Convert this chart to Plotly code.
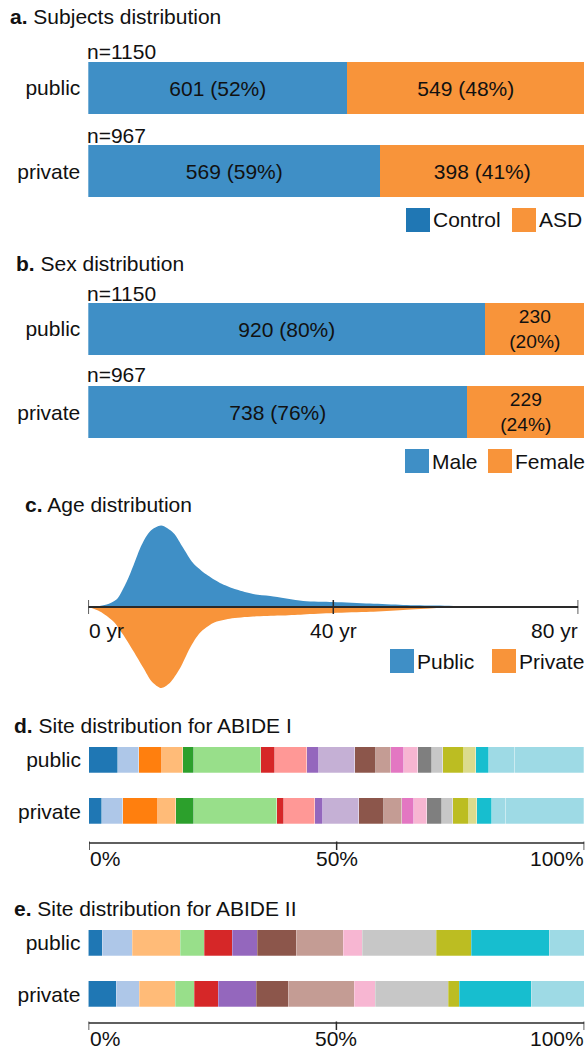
import plotly.graph_objects as go

W, H = 588, 1051
FONT = "Liberation Sans, Arial, Helvetica, sans-serif"
FS = 21

# ---------------- data ----------------
groups = ["public", "private"]
totals = [1150, 967]

control_counts = [601, 569]
asd_counts = [549, 398]

male_counts = [920, 738]
female_counts = [230, 229]

# age density (% of subjects per year)
age_public_yr = [0, 1.5, 3.0, 4.6, 6.3, 7.4, 8.7, 10.1, 11.9, 13.9, 15.5, 17.1, 19.3,
                 21.5, 24.2, 26.9, 29.7, 35.1, 40.0, 46.0, 51.4, 56.9, 62.3, 66.0, 80.0]
age_public_density = [0, 0.03, 0.12, 0.37, 1.29, 2.10, 3.10, 3.79, 4.07, 3.70, 2.95, 2.20, 1.62,
                      1.20, 0.87, 0.65, 0.55, 0.30, 0.25, 0.17, 0.10, 0.07, 0.03, 0, 0]
age_private_yr = [0, 1.9, 4.1, 5.7, 7.35, 9.0, 10.35, 11.9, 13.3, 15.0, 16.6, 18.2, 20.4,
                  23.1, 26.9, 31.3, 35.1, 40.0, 46.0, 51.4, 56.9, 59.5, 80.0]
age_private_density = [0, 0.22, 0.72, 1.39, 2.20, 3.05, 3.72, 4.05, 3.80, 3.05, 2.05, 1.30, 0.80,
                       0.59, 0.48, 0.43, 0.37, 0.30, 0.24, 0.15, 0.05, 0, 0]
age_ticks = [0, 40, 80]

# share of subjects per acquisition site (%)
abide1_public = [5.9, 4.3, 4.6, 4.2, 2.3, 13.5, 2.8, 6.5, 2.4, 7.3, 4.2, 3.1, 2.6, 2.7,
                 3.0, 2.2, 4.2, 2.4, 2.6, 5.2, 14.1]
abide1_private = [2.6, 4.3, 7.0, 3.6, 3.7, 16.8, 1.4, 6.2, 1.7, 7.2, 5.2, 3.5, 2.5, 2.7,
                  3.0, 2.1, 3.2, 1.7, 3.1, 2.8, 15.8]
abide2_public = [2.8, 6.1, 9.6, 4.8, 5.8, 4.9, 8.0, 9.5, 3.8, 14.9, 7.1, 15.6, 7.1]
abide2_private = [5.6, 4.6, 7.3, 3.8, 4.9, 7.7, 6.4, 13.3, 4.2, 14.9, 2.2, 14.4, 10.7]
pct_ticks = [0, 50, 100]

TAB20 = ["#1f77b4", "#aec7e8", "#ff7f0e", "#ffbb78", "#2ca02c", "#98df8a", "#d62728",
         "#ff9896", "#9467bd", "#c5b0d5", "#8c564b", "#c49c94", "#e377c2", "#f7b6d2",
         "#7f7f7f", "#c7c7c7", "#bcbd22", "#dbdb8d", "#17becf", "#9edae5"]
abide1_colors = TAB20 + [TAB20[19]]
abide2_colors = [TAB20[i] for i in [0, 1, 3, 5, 6, 8, 10, 11, 13, 15, 16, 18, 19]]

BLUE = "#3f8fc6"
ORANGE = "#f8943a"


def fx(p):
    return p / W


def fy(p):
    return 1 - p / H


fig = go.Figure()
annotations = []
shapes = []


def bar_axes(n, top, bot, w, left=88.3, right=584.6):
    fig.layout[f"xaxis{n}"] = dict(domain=[fx(left), fx(right)], range=[0, 100], visible=False,
                                   fixedrange=True)
    fig.layout[f"yaxis{n}"] = dict(domain=[fy(bot), fy(top)], range=[1 + w / 2, -w / 2],
                                   tickvals=[0, 1], ticktext=groups, showgrid=False,
                                   zeroline=False, showline=False, ticks="",
                                   ticklabelstandoff=7,
                                   tickfont=dict(family=FONT, size=FS, color="#111"),
                                   anchor=f"x{n}", fixedrange=True)


def count_bars(n, w, counts_a, counts_b, col_a, col_b, wrap_b=False):
    pa = [a / t * 100 for a, t in zip(counts_a, totals)]
    pb = [b / t * 100 for b, t in zip(counts_b, totals)]
    ta = [f"{a} ({round(p)}%)" for a, p in zip(counts_a, pa)]
    sep = "<br>" if wrap_b else " "
    tb = [f"{b}{sep}({round(p)}%)" for b, p in zip(counts_b, pb)]
    for vals, txt, col in [(pa, ta, col_a), (pb, tb, col_b)]:
        fig.add_trace(go.Bar(
            y=[0, 1], x=vals, orientation="h", width=w, text=txt,
            textposition="inside", insidetextanchor="middle",
            textfont=dict(family=FONT, size=FS, color="#111"),
            marker=dict(color=col, line=dict(width=0)),
            xaxis=f"x{n}", yaxis=f"y{n}", showlegend=False, hoverinfo="skip"))


def site_bars(n, w, pub, priv, colors):
    sp, sv = sum(pub), sum(priv)
    for i, (a, b) in enumerate(zip(pub, priv)):
        fig.add_trace(go.Bar(
            y=[0, 1], x=[a / sp * 100, b / sv * 100], orientation="h", width=w,
            marker=dict(color=colors[i], line=dict(width=0.6, color="rgba(255,255,255,0.45)")),
            name=f"site {i + 1}", xaxis=f"x{n}", yaxis=f"y{n}",
            showlegend=False, hoverinfo="skip"))


def title(text, x, y):
    annotations.append(dict(text=text, x=fx(x), y=fy(y), xref="paper", yref="paper",
                            xanchor="left", yanchor="middle", showarrow=False,
                            font=dict(family=FONT, size=FS, color="#111")))


def label(text, x, y, anchor="left"):
    annotations.append(dict(text=text, x=fx(x), y=fy(y), xref="paper", yref="paper",
                            xanchor=anchor, yanchor="middle", showarrow=False,
                            font=dict(family=FONT, size=FS, color="#111")))


def legend_item(x_box, y, color, text):
    shapes.append(dict(type="rect", xref="paper", yref="paper",
                       x0=fx(x_box), x1=fx(x_box + 24), y0=fy(y + 12), y1=fy(y - 12),
                       fillcolor=color, line=dict(width=0)))
    label(text, x_box + 25, y)


# ---------- a. Subjects distribution ----------
title("<b>a.</b> Subjects distribution", 8, 17)
wa = 0.617
bar_axes("", 62, 197, wa)
count_bars("", wa, control_counts, asd_counts, BLUE, ORANGE)
label(f"n={totals[0]}", 85, 51)
label(f"n={totals[1]}", 85, 135)
legend_item(406, 220, "#2077b4", "Control")
legend_item(512, 220, ORANGE, "ASD")

# ---------- b. Sex distribution ----------
title("<b>b.</b> Sex distribution", 14, 263)
wb = 0.62
bar_axes(2, 303, 438, wb)
count_bars(2, wb, male_counts, female_counts, BLUE, ORANGE, wrap_b=True)
label(f"n={totals[0]}", 85, 293)
label(f"n={totals[1]}", 85, 375)
legend_item(405, 461, BLUE, "Male")
legend_item(488, 461, ORANGE, "Female")

# ---------- c. Age distribution ----------
title("<b>c.</b> Age distribution", 23, 504)
fig.layout["xaxis3"] = dict(domain=[fx(88.3), fx(578.3)], range=[0, 80], visible=False,
                            fixedrange=True)
fig.layout["yaxis3"] = dict(domain=[fy(694), fy(520)], range=[-4.35, 4.35], visible=False,
                            anchor="x3", fixedrange=True)
fig.add_trace(go.Scatter(x=age_public_yr, y=age_public_density, mode="lines",
                         line=dict(width=0, shape="spline", smoothing=0.8, color=BLUE),
                         fill="tozeroy", fillcolor=BLUE, xaxis="x3", yaxis="y3",
                         showlegend=False, hoverinfo="skip"))
fig.add_trace(go.Scatter(x=age_private_yr, y=[-d for d in age_private_density], mode="lines",
                         line=dict(width=0, shape="spline", smoothing=0.8, color=ORANGE),
                         fill="tozeroy", fillcolor=ORANGE, xaxis="x3", yaxis="y3",
                         showlegend=False, hoverinfo="skip"))
shapes.append(dict(type="line", xref="x3", yref="y3", x0=age_ticks[0], x1=age_ticks[-1],
                   y0=0, y1=0, line=dict(color="#2a2a2a", width=1.8)))
for t in age_ticks:
    shapes.append(dict(type="line", xref="x3", yref="y3", x0=t, x1=t,
                       ysizemode="pixel", yanchor=0, y0=-7, y1=7,
                       line=dict(color="#2a2a2a", width=1.5)))
for t, anc in zip(age_ticks, ["left", "center", "right"]):
    annotations.append(dict(text=f"{t} yr", x=t, y=fy(630), xref="x3", yref="paper",
                            xanchor=anc, yanchor="middle", showarrow=False,
                            xshift=-1 if anc == "left" else (2 if anc == "right" else 0),
                            font=dict(family=FONT, size=FS, color="#111")))
legend_item(390, 661, BLUE, "Public")
legend_item(492, 661, ORANGE, "Private")


# ---------- d / e. Site distributions ----------
def pct_axis(n, y_line, y_lab):
    shapes.append(dict(type="line", xref=f"x{n}", yref="paper", x0=pct_ticks[0], x1=pct_ticks[-1],
                       y0=fy(y_line), y1=fy(y_line), line=dict(color="#2a2a2a", width=1.5)))
    for t in pct_ticks:
        shapes.append(dict(type="line", xref=f"x{n}", yref="paper", x0=t, x1=t,
                           y0=fy(y_line - 1.5), y1=fy(y_line + 7),
                           line=dict(color="#2a2a2a", width=1.5)))
    for t, anc in zip(pct_ticks, ["left", "center", "right"]):
        annotations.append(dict(text=f"{t}%", x=t, y=fy(y_lab), xref=f"x{n}", yref="paper",
                                xanchor=anc, yanchor="middle", showarrow=False,
                                xshift=-1 if anc == "left" else (2 if anc == "right" else 0),
                                font=dict(family=FONT, size=FS, color="#111")))


title("<b>d.</b> Site distribution for ABIDE I", 12, 725)
wd = 0.497
bar_axes(4, 747, 824, wd, left=89, right=584.3)
site_bars(4, wd, abide1_public, abide1_private, abide1_colors)
pct_axis(4, 843, 858)

title("<b>e.</b> Site distribution for ABIDE II", 12, 908)
we = 0.5
bar_axes(5, 930, 1007, we, left=88.5, right=584.3)
site_bars(5, we, abide2_public, abide2_private, abide2_colors)
pct_axis(5, 1023, 1038)

fig.update_layout(
    width=W, height=H, margin=dict(l=0, r=0, t=0, b=0),
    paper_bgcolor="white", plot_bgcolor="white",
    barmode="stack", bargap=0,
    uniformtext=dict(minsize=FS, mode="show"),
    annotations=annotations, shapes=shapes,
    font=dict(family=FONT, size=FS, color="#111"),
)

fig.write_html("out.html", config={"displayModeBar": False})
